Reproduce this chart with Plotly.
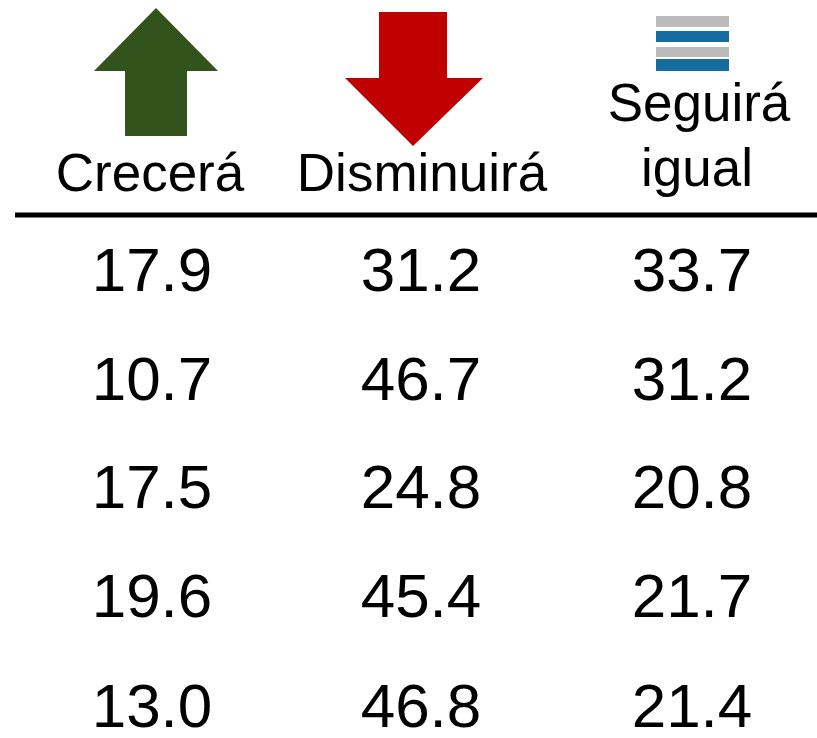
import plotly.graph_objects as go

# column headers and the values under them
headers = ['Crecerá', 'Disminuirá', 'Seguirá', 'igual']
crecera = [17.9, 10.7, 17.5, 19.6, 13.0]
disminuira = [31.2, 46.7, 24.8, 45.4, 46.8]
seguira_igual = [33.7, 31.2, 20.8, 21.7, 21.4]

W, H = 817, 738
FONT = 'Liberation Sans Narrow, Arial Narrow, Liberation Sans, Arial'

# layout in pixel space (y grows downward)
col_x = [152, 421, 692]
row_y = [275, 384, 492, 601, 711]

fig = go.Figure()

for cx, vals in zip(col_x, [crecera, disminuira, seguira_igual]):
  fig.add_trace(go.Scatter(
    x=[cx] * len(vals),
    y=row_y,
    mode='text',
    text=[f'{v:.1f}' for v in vals],
    textposition='middle center',
    textfont=dict(family=FONT, size=62, color='black'),
    hoverinfo='skip',
    showlegend=False,
  ))

# headers
fig.add_trace(go.Scatter(
  x=[150, 422, 699, 697],
  y=[178, 178, 108, 173],
  mode='text',
  text=headers,
  textposition='middle center',
  textfont=dict(family=FONT, size=53, color='black'),
  hoverinfo='skip',
  showlegend=False,
))

# header rule
fig.add_shape(type='line', x0=15, x1=W, y0=215, y1=215, xref='x', yref='y',
              line=dict(color='black', width=5))

# up arrow (green)
fig.add_shape(type='path', xref='x', yref='y',
              path='M 156 8 L 218 71 L 187 71 L 187 136 L 125 136 L 125 71 L 94 71 Z',
              fillcolor='#33531C', line=dict(width=0))
# down arrow (red)
fig.add_shape(type='path', xref='x', yref='y',
              path='M 379 12 L 447 12 L 447 78 L 483 78 L 413 146 L 345 78 L 379 78 Z',
              fillcolor='#C00000', line=dict(width=0))
# equals icon
for y0, y1, col in [(16, 27, 'rgba(150,150,150,0.65)'), (31, 42, '#146CA0'),
                    (47, 57, 'rgba(150,150,150,0.65)'), (59, 71, '#146CA0')]:
  fig.add_shape(type='rect', xref='x', yref='y', x0=656, x1=729, y0=y0, y1=y1,
                fillcolor=col, line=dict(width=0))

fig.update_layout(
  width=W, height=H,
  margin=dict(l=0, r=0, t=0, b=0),
  paper_bgcolor='white', plot_bgcolor='white',
  xaxis=dict(range=[0, W], visible=False, fixedrange=True),
  yaxis=dict(range=[H, 0], visible=False, fixedrange=True),
)

# drop the default page margin so the figure sits at the window's corner
fig.write_html("out.html", config={'displayModeBar': False},
               post_script="document.body.style.margin='0';document.body.style.overflow='hidden';")
